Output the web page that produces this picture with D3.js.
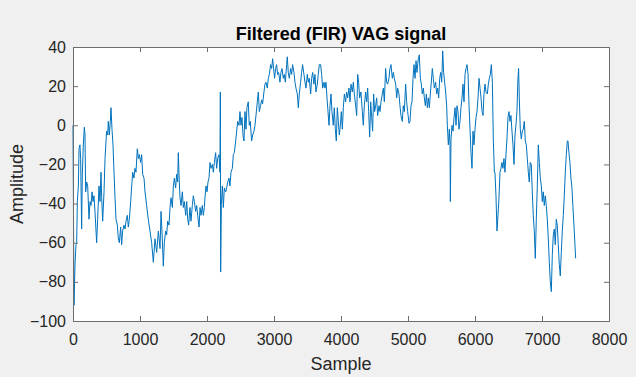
<!DOCTYPE html>
<html>
<head>
<meta charset="utf-8">
<script src="https://cdn.jsdelivr.net/npm/d3@7"></script>
<style>
  html, body { margin: 0; padding: 0; background: #f0f0f0; }
  svg { display: block; font-family: "Liberation Sans", Arial, sans-serif; }
</style>
</head>
<body>
<svg id="chart" width="636" height="377"></svg>
<script>
// Sample index and amplitude
const samples = [
  0, 15, 30, 45, 55, 65, 80, 90, 104, 114, 129, 139, 154, 169, 179, 189, 204, 219, 239, 254,
  269, 284, 299, 313, 328, 353, 368, 388, 403, 418, 428, 443, 463, 478, 493, 502, 517, 527, 542, 557,
  567, 582, 597, 612, 627, 642, 662, 677, 692, 711, 726, 741, 761, 776, 791, 811, 826, 841, 861, 876,
  891, 910, 925, 940, 960, 975, 990, 1010, 1025, 1040, 1060, 1075, 1099, 1124, 1149, 1174, 1199, 1224, 1249, 1274,
  1299, 1314, 1333, 1348, 1363, 1383, 1398, 1413, 1433, 1448, 1463, 1483, 1498, 1513, 1532, 1547, 1562, 1572, 1582, 1597,
  1612, 1632, 1647, 1662, 1682, 1697, 1712, 1726, 1746, 1761, 1781, 1796, 1811, 1831, 1846, 1861, 1881, 1896, 1911, 1930,
  1945, 1960, 1970, 1985, 2000, 2015, 2030, 2045, 2060, 2080, 2095, 2110, 2129, 2144, 2159, 2179, 2194, 2199, 2204, 2214,
  2229, 2244, 2259, 2279, 2294, 2309, 2328, 2343, 2358, 2378, 2393, 2408, 2428, 2443, 2458, 2478,
  2492, 2507, 2522, 2537, 2552, 2567, 2582, 2596, 2616, 2631, 2646, 2666, 2681, 2701, 2716, 2731, 2751, 2766, 2781, 2800,
  2815, 2830, 2850, 2865, 2880, 2900, 2915, 2930, 2950, 2965, 2980, 2994, 3009, 3024, 3039, 3054, 3069, 3089, 3104, 3119,
  3139, 3154, 3169, 3189, 3198, 3213, 3228, 3248, 3263, 3278, 3298, 3313, 3328, 3348, 3363, 3378, 3397, 3412, 3427, 3447,
  3462, 3477, 3497, 3512, 3527, 3547, 3562, 3577, 3596, 3611, 3626, 3646, 3661, 3676, 3696, 3711, 3726, 3746,
  3761, 3776, 3791, 3806, 3821, 3836, 3851, 3865, 3885, 3900, 3915, 3930, 3945, 3960, 3975, 3990, 4005, 4020, 4035, 4050,
  4069, 4084, 4099, 4119, 4134, 4149, 4169, 4184, 4199, 4219, 4234, 4249, 4263, 4278, 4298, 4318, 4333, 4348, 4368, 4383,
  4398, 4413, 4428, 4443, 4458, 4472, 4487, 4502, 4517, 4532, 4547, 4567, 4582, 4597, 4617, 4632, 4647, 4666, 4681, 4696,
  4716, 4731, 4746, 4766, 4781, 4796, 4816, 4831, 4846, 4865, 4880, 4895, 4915, 4930, 4945, 4965, 4980, 4995, 5015,
  5030, 5045, 5060, 5075, 5090, 5105, 5120, 5134, 5154, 5169, 5184, 5199, 5214, 5229, 5244, 5259, 5274, 5289, 5304, 5319,
  5333, 5348, 5363, 5378, 5393, 5413, 5428, 5443, 5458, 5473, 5488, 5503, 5518, 5532, 5547, 5562, 5577, 5587, 5602, 5617,
  5627, 5632, 5642, 5657, 5672, 5687, 5702, 5717, 5731, 5746, 5761, 5776, 5791, 5806, 5821, 5836, 5851, 5866, 5881, 5896,
  5911, 5926, 5940, 5955, 5970, 5985, 6000, 6015, 6030, 6045, 6060, 6075, 6090, 6105, 6120, 6134, 6149, 6164, 6184, 6199,
  6214, 6229, 6244, 6259, 6274, 6289,
  6298, 6313, 6328, 6343, 6358, 6373, 6388, 6402, 6417, 6432, 6447, 6462, 6477, 6492, 6507, 6522, 6537, 6552, 6567, 6582,
  6597, 6611, 6626, 6641, 6651, 6661, 6676, 6691, 6706, 6721, 6736, 6751, 6766, 6781, 6796, 6810, 6825, 6840, 6855, 6870,
  6885, 6900, 6915, 6930, 6945, 6960, 6975, 6990, 7004, 7019, 7034, 7049, 7064, 7079, 7094, 7109, 7124, 7139, 7154, 7169,
  7184, 7198, 7213, 7228, 7243, 7258, 7273, 7288, 7303, 7318, 7333, 7348, 7363, 7378, 7388, 7402, 7417, 7432, 7447, 7462,
  7477, 7492, 7502
];
const amplitude = [
  0, -92, -71, -61, -60, -39, -31, -12, -10, -17, -53, -25, -10, -1, -5, -34, -29, -31, -48, -39,
  -41, -34, -39, -36, -44, -60, -48, -31, -39, -24, -37, -49, -34, -17, -8, -3, -5, 2, -5, 2,
  9, -2, -10, -24, -37, -48, -51, -58, -60, -52, -61, -54, -51, -53, -49, -46, -52, -48, -39, -31,
  -24, -27, -22, -24, -12, -17, -15, -19, -15, -25, -27, -34, -41, -48, -54, -60, -70, -58, -65, -54,
  -63, -44, -58, -72, -60, -54, -56, -49, -51, -42, -37, -42, -31, -27, -32, -25, -29, -14, -25, -37,
  -41, -34, -42, -39, -46, -39, -48, -51, -42, -49, -41, -36, -39, -44, -41, -46, -52, -42, -46, -41,
  -46, -42, -37, -31, -34, -29, -27, -19, -22, -20, -24, -19, -14, -22, -17, -15, -24, 17, -75, -41,
  -31, -42, -32, -34, -32, -29, -27, -31, -24, -22, -15, -14, -8, -3, 2, 0,
  7, 0, 4, -5, -8, 7, -2, 9, 12, 0, 2, -8, -5, -3, 0, 5, 12, 17, 7, 10,
  13, 11, 17, 21, 22, 19, 24, 26, 31, 29, 34, 29, 24, 29, 31, 26, 27, 22, 27, 29,
  24, 26, 22, 31, 35, 27, 24, 29, 26, 31, 27, 22, 19, 16, 9, 16, 22, 27, 31, 26,
  22, 19, 26, 22, 24, 16, 24, 27, 21, 26, 17, 21, 26, 31, 31, 26, 19, 22,
  19, 22, 14, 7, 0, 10, 16, 7, 0, 9, -2, -8, 9, 2, -5, 0, 7, -2, 9, 16,
  12, 17, 14, 19, 12, 21, 17, 22, 16, 10, 5, 26, 22, 14, 17, 7, 0, 10, 17, 12,
  19, 7, -6, 12, 4, -3, 16, 7, 10, 14, 5, 10, 7, 12, 16, 19, 12, 29, 22, 21,
  24, 29, 31, 24, 27, 24, 21, 14, 19, 16, 10, 5, 2, 10, 7, 21, 12, 7, 1,
  2, 10, 12, 24, 31, 24, 33, 27, 34, 36, 24, 21, 16, 19, 14, 10, 16, 9, 14, 9,
  16, 22, 29, 24, 19, 22, 16, 19, 14, 24, 27, 22, 38, 27, 22, 17, 10, 0, -10, -2,
  -10, -39, -7, 0, -3, 4, 9, 0, 10, 7, -2, 2, 9, 14, 21, 12, 26, 29, 31, 26,
  10, -2, -14, -22, -3, -10, -2, 4, 7, 14, 24, 19, 14, 7, 5, 16, 21, 17, 16, 21,
  24, 26, 31, 22, -8, -24,
  -24, -36, -54, -46, -37, -24, -22, -19, -22, -17, -24, -15, -7, 4, 7, 2, 5, -3, -10, -20,
  -5, 0, 7, 24, 29, 14, -2, -7, -3, -2, 2, -8, -10, -17, -24, -29, -19, -20, -34, -46,
  -54, -68, -48, -31, -10, -19, -27, -31, -39, -34, -41, -36, -41, -48, -58, -70, -80, -85, -66, -56,
  -53, -61, -48, -51, -61, -71, -77, -65, -54, -46, -36, -24, -15, -8, -8, -14, -19, -27, -32, -42,
  -51, -61, -68
];

const xTicks = [0, 1000, 2000, 3000, 4000, 5000, 6000, 7000, 8000];
const yTicks = [-100, -80, -60, -40, -20, 0, 20, 40];

const margin = { left: 73, right: 27, top: 47, bottom: 56 };
const W = 636, H = 377;
const svg = d3.select('#chart');
const textColor = '#262626';
const boxColor = '#6e6e6e';

const x = d3.scaleLinear().domain([0, 8000]).range([margin.left, W - margin.right]);
const y = d3.scaleLinear().domain([-100, 40]).range([H - margin.bottom, margin.top]);

// Axes background
svg.append('rect')
  .attr('x', x(0)).attr('y', y(40))
  .attr('width', x(8000) - x(0)).attr('height', y(-100) - y(40))
  .attr('fill', '#ffffff');

// Signal
const data = samples.map((s, i) => [s, amplitude[i]]);
svg.append('path')
  .datum(data)
  .attr('fill', 'none')
  .attr('stroke', '#0072bd')
  .attr('stroke-width', 1)
  .attr('stroke-linejoin', 'round')
  .attr('d', d3.line().x(d => x(d[0])).y(d => y(d[1])));

// Axes, ticks pointing inward on all four sides
const tick = 5;
const styleAxis = g => {
  g.select('.domain').remove();
  g.selectAll('.tick line').attr('stroke', boxColor);
  g.selectAll('.tick text').attr('fill', textColor).style('font-size', '16px');
};

svg.append('g')
  .attr('transform', `translate(0,${y(-100)})`)
  .call(d3.axisBottom(x).tickValues(xTicks).tickSize(-tick).tickPadding(13).tickFormat(d3.format('d')))
  .call(styleAxis);
svg.append('g')
  .attr('transform', `translate(0,${y(40)})`)
  .call(d3.axisTop(x).tickValues(xTicks).tickSize(-tick).tickFormat(''))
  .call(styleAxis);
svg.append('g')
  .attr('transform', `translate(${x(0)},0)`)
  .call(d3.axisLeft(y).tickValues(yTicks).tickSize(-tick).tickPadding(7).tickFormat(d3.format('d')))
  .call(styleAxis);
svg.append('g')
  .attr('transform', `translate(${x(8000)},0)`)
  .call(d3.axisRight(y).tickValues(yTicks).tickSize(-tick).tickFormat(''))
  .call(styleAxis);

svg.selectAll('g').attr('font-family', null);

// Box
svg.append('rect')
  .attr('x', x(0)).attr('y', y(40))
  .attr('width', x(8000) - x(0)).attr('height', y(-100) - y(40))
  .attr('fill', 'none')
  .attr('stroke', boxColor)
  .attr('stroke-width', 1)
  .attr('shape-rendering', 'crispEdges');

// Labels
svg.append('text')
  .attr('x', (x(0) + x(8000)) / 2).attr('y', 40)
  .attr('text-anchor', 'middle')
  .style('font-size', '18px').style('font-weight', 'bold')
  .attr('fill', '#000')
  .text('Filtered (FIR) VAG signal');

svg.append('text')
  .attr('x', (x(0) + x(8000)) / 2).attr('y', 370)
  .attr('text-anchor', 'middle')
  .style('font-size', '18px')
  .attr('fill', textColor)
  .text('Sample');

svg.append('text')
  .attr('transform', `translate(23,${(y(40) + y(-100)) / 2}) rotate(-90)`)
  .attr('text-anchor', 'middle')
  .style('font-size', '18px')
  .attr('fill', textColor)
  .text('Amplitude');
</script>
</body>
</html>
